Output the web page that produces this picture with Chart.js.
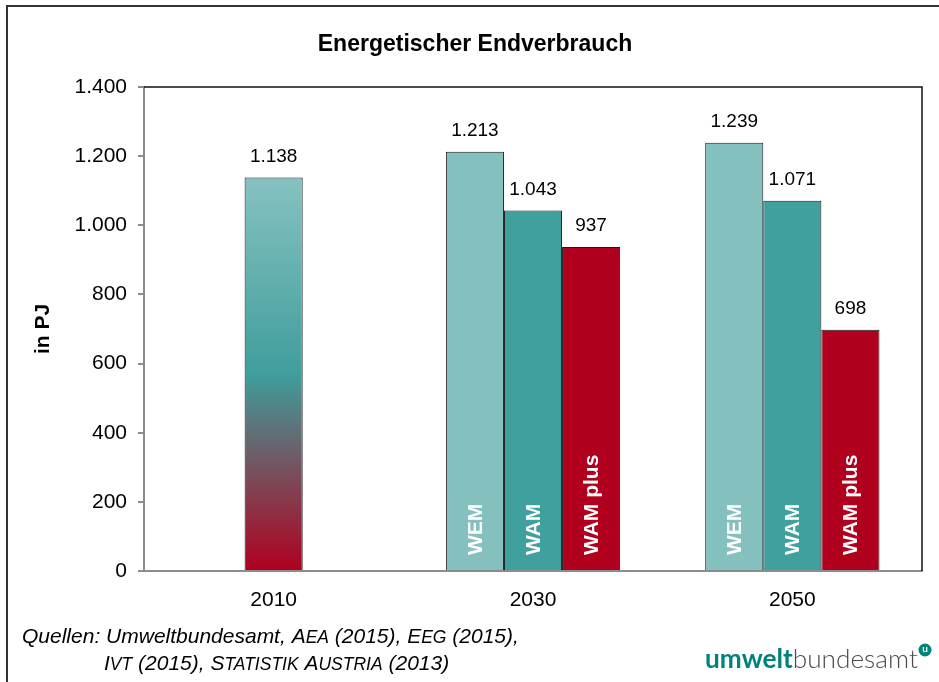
<!DOCTYPE html>
<html>
<head>
<meta charset="utf-8">
<script src="https://cdn.jsdelivr.net/npm/chart.js@4.4.1/dist/chart.umd.min.js"></script>
<style>
  html, body { margin: 0; padding: 0; background: #fff; }
  #wrap { position: relative; width: 939px; height: 682px; }
</style>
</head>
<body>
<div id="wrap"><canvas id="c" width="939" height="682"></canvas></div>
<script>
// ---- data ----
const categories = ['2010', '2030', '2050'];
const values2010 = [1138, null, null];
const valuesWEM = [null, 1213, 1239];
const valuesWAM = [null, 1043, 1071];
const valuesWAMplus = [null, 937, 698];
const seriesNames = ['WEM', 'WAM', 'WAM plus'];
const yTicks = [0, 200, 400, 600, 800, 1000, 1200, 1400];
const chartTitle = 'Energetischer Endverbrauch';
const yTitle = 'in PJ';

const BASE = '"Liberation Sans", Arial, sans-serif';
const C_WEM = '#83c0be';
const C_WAM = '#40a09d';
const C_PLUS = '#b0001e';

function fmt(v) {
  const s = String(Math.round(v));
  return s.replace(/\B(?=(\d{3})+(?!\d))/g, '.');
}

function gradient2010(ctx) {
  const chart = ctx.chart;
  if (!chart.chartArea || ctx.parsed == null || ctx.parsed.y == null) return C_WAM;
  const ys = chart.scales.y;
  const top = ys.getPixelForValue(ctx.parsed.y);
  const bot = ys.getPixelForValue(0);
  const g = chart.ctx.createLinearGradient(0, top, 0, bot);
  g.addColorStop(0, '#86c2c1');
  g.addColorStop(0.5, '#3f9e9c');
  g.addColorStop(1, '#b0001e');
  return g;
}

const decorPlugin = {
  id: 'decor',
  afterDraw(chart) {
    const ctx = chart.ctx;
    const ca = chart.chartArea;
    ctx.save();
    // plot frame top & right
    ctx.strokeStyle = '#111';
    ctx.lineWidth = 1.5;
    ctx.beginPath();
    ctx.moveTo(ca.left, ca.top);
    ctx.lineTo(ca.right, ca.top);
    ctx.lineTo(ca.right, ca.bottom);
    ctx.stroke();
    // outer frame
    ctx.strokeStyle = '#333';
    ctx.lineWidth = 2;
    ctx.beginPath();
    ctx.moveTo(7, 682);
    ctx.lineTo(7, 6);
    ctx.lineTo(939, 6);
    ctx.stroke();

    // title
    ctx.fillStyle = '#000';
    ctx.font = 'bold 23px ' + BASE;
    ctx.textAlign = 'center';
    ctx.textBaseline = 'alphabetic';
    ctx.fillText(chartTitle, 475, 51);

    // value labels and inside labels
    chart.data.datasets.forEach((ds, di) => {
      const meta = chart.getDatasetMeta(di);
      meta.data.forEach((bar, i) => {
        const v = ds.data[i];
        if (v == null) return;
        ctx.fillStyle = '#000';
        ctx.font = '19px ' + BASE;
        ctx.textAlign = 'center';
        ctx.textBaseline = 'middle';
        ctx.fillText(fmt(v), bar.x, bar.y - 21);
        if (ds.inside) {
          ctx.save();
          ctx.translate(bar.x, ca.bottom - 16);
          ctx.rotate(-Math.PI / 2);
          ctx.fillStyle = '#fff';
          ctx.font = 'bold 21px ' + BASE;
          ctx.textAlign = 'left';
          ctx.textBaseline = 'middle';
          ctx.fillText(ds.label, 0, 1);
          ctx.restore();
        }
      });
    });

    // sources
    ctx.fillStyle = '#000';
    ctx.textAlign = 'left';
    ctx.textBaseline = 'alphabetic';
    function rich(x, y, parts) {
      for (const [t, s] of parts) {
        ctx.font = 'italic ' + s + 'px ' + BASE;
        ctx.fillText(t, x, y);
        x += ctx.measureText(t).width;
      }
    }
    const L = 21, S = 17.5;
    rich(22, 643, [['Quellen: Umweltbundesamt, A', L], ['EA', S], [' (2015), E', L], ['EG', S], [' (2015),', L]]);
    rich(104, 670, [['I', L], ['VT', S], [' (2015), S', L], ['TATISTIK', S], [' A', L], ['USTRIA', S], [' (2013)', L]]);

    // logo
    const lx = 705, lw = 213, lb = 668;
    let fs = 26;
    ctx.font = 'bold ' + fs + 'px Lato, "Open Sans", sans-serif';
    let w1 = ctx.measureText('umwelt').width;
    ctx.font = '300 ' + fs + 'px Lato, "Open Sans", sans-serif';
    let w2 = ctx.measureText('bundesamt').width;
    fs = fs * lw / (w1 + w2);
    ctx.font = 'bold ' + fs + 'px Lato, "Open Sans", sans-serif';
    w1 = ctx.measureText('umwelt').width;
    ctx.fillStyle = '#00837d';
    ctx.fillText('umwelt', lx, lb);
    ctx.font = '300 ' + fs + 'px Lato, "Open Sans", sans-serif';
    ctx.fillStyle = '#4a4a4a';
    ctx.fillText('bundesamt', lx + w1, lb);
    ctx.beginPath();
    ctx.arc(925, 650, 6.5, 0, Math.PI * 2);
    ctx.fillStyle = '#00837d';
    ctx.fill();
    ctx.fillStyle = '#fff';
    ctx.font = 'bold 10px Lato, sans-serif';
    ctx.textAlign = 'center';
    ctx.textBaseline = 'middle';
    ctx.fillText('u', 925, 649);
    ctx.restore();
  }
};

const barCommon = {
  borderColor: '#1a1a1a',
  borderWidth: 1,
  categoryPercentage: 0.672,
  barPercentage: 1.0
};

new Chart(document.getElementById('c'), {
  type: 'bar',
  data: {
    labels: categories,
    datasets: [
      Object.assign({ label: seriesNames[0], data: valuesWEM, backgroundColor: C_WEM, stack: 'a', inside: true }, barCommon),
      Object.assign({ label: '2010', data: values2010, backgroundColor: gradient2010, stack: 'b', inside: false }, barCommon),
      Object.assign({ label: seriesNames[1], data: valuesWAM, backgroundColor: C_WAM, stack: 'b', inside: true }, barCommon),
      Object.assign({ label: seriesNames[2], data: valuesWAMplus, backgroundColor: C_PLUS, stack: 'c', inside: true }, barCommon)
    ]
  },
  options: {
    responsive: false,
    animation: false,
    layout: { padding: { left: 0, right: 17, top: 87, bottom: 0 } },
    plugins: {
      legend: { display: false },
      tooltip: { enabled: false },
      title: { display: false }
    },
    scales: {
      x: {
        afterFit(scale) { scale.height = 111; },
        grid: { display: false, drawTicks: false },
        border: { display: true, color: '#8c8c8c', width: 2 },
        ticks: { color: '#000', font: { family: BASE, size: 21 }, padding: 17 }
      },
      y: {
        stacked: true,
        min: 0,
        max: 1400,
        afterFit(scale) { scale.width = 144; },
        afterBuildTicks(scale) { scale.ticks = yTicks.map(v => ({ value: v })); },
        grid: { drawOnChartArea: false, drawTicks: true, tickLength: 6, color: '#8c8c8c', lineWidth: 2 },
        border: { display: true, color: '#8c8c8c', width: 2 },
        ticks: { color: '#000', font: { family: BASE, size: 21 }, padding: 11, callback: v => fmt(v) },
        title: { display: true, text: yTitle, color: '#000', font: { family: BASE, size: 21, weight: 'bold' }, padding: { top: 31, bottom: 0 } }
      }
    }
  },
  plugins: [decorPlugin]
});
</script>
</body>
</html>
